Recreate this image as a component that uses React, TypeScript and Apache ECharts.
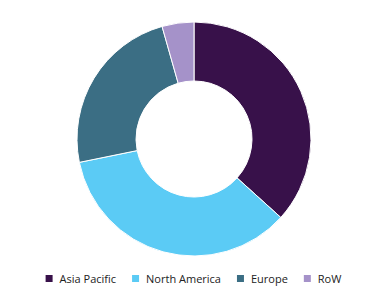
import React, { useEffect, useRef } from "react";
import * as echarts from "echarts";

const categories = ["Asia Pacific", "North America", "Europe", "RoW"];
const values = [36.7, 35.1, 23.8, 4.4];
const colors = ["#38114a", "#5bcbf5", "#3b6e84", "#a592c9"];

export default function App() {
  const ref = useRef<HTMLDivElement>(null);
  useEffect(() => {
    if (!ref.current) return;
    const chart = echarts.init(ref.current, undefined, { renderer: "svg" });
    chart.setOption({
      animation: false,
      color: colors,
      legend: {
        bottom: 11,
        left: "center",
        itemWidth: 9,
        itemHeight: 9,
        itemGap: 14,
        icon: "rect",
        textStyle: { fontFamily: "Open Sans", fontSize: 11, color: "#222", padding: [0, 0, 0, 1] },
        data: categories,
      },
      series: [
        {
          type: "pie",
          center: [194, 139],
          radius: [58, 117],
          startAngle: 90,
          clockwise: true,
          label: { show: false },
          labelLine: { show: false },
          itemStyle: { borderColor: "#fff", borderWidth: 1 },
          data: categories.map((c, i) => ({ name: c, value: values[i] })),
        },
      ],
    });
    return () => chart.dispose();
  }, []);
  return (
    <div
      ref={ref}
      style={{ position: "fixed", left: 0, top: 0, width: 385, height: 300, background: "#fff" }}
    />
  );
}
